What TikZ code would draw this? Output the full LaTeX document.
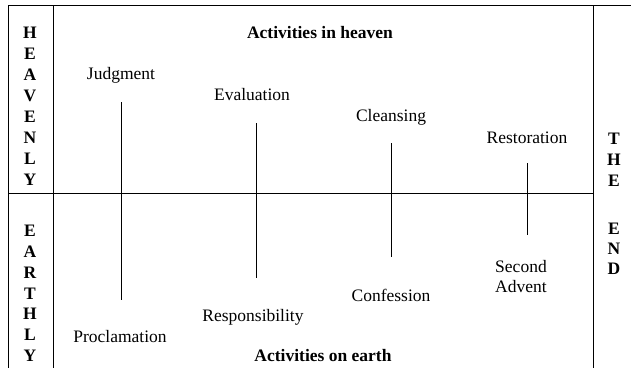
\documentclass[tikz,border=0pt]{standalone}
\usepackage{fontspec}
\setmainfont{Liberation Serif}
\begin{document}
\begin{tikzpicture}[x=1pt,y=-1pt,
  rule/.style={line width=0.8pt,black},
  tick/.style={line width=0.8pt,black},
  lab/.style={font=\fontsize{17.5}{20}\selectfont,inner sep=0pt,align=center},
  head/.style={font=\fontsize{17.5}{20}\selectfont\bfseries,inner sep=0pt},
  vlet/.style={font=\fontsize{17.5}{20}\selectfont\bfseries,inner sep=0pt}]
\useasboundingbox (0,0) rectangle (631,368);
% frame
\coordinate (tl) at (8,5);
\coordinate (tr) at (631,5);
\coordinate (bl) at (8,368);
\coordinate (c2t) at (53,5);
\coordinate (c2b) at (53,368);
\coordinate (c3t) at (593,5);
\coordinate (c3b) at (593,368);
\coordinate (ml) at (8,193);
\coordinate (mr) at (593,193);
\draw[rule] (tl) -- (tr);
\draw[rule] (tl) -- (bl);
\draw[rule] (c2t) -- (c2b);
\draw[rule] (c3t) -- (c3b);
\draw[rule] (ml) -- (mr);
% side letters
\foreach \l [count=\i from 0] in {H,E,A,V,E,N,L,Y}
  \node[vlet] (hv\i) at (30,33+21*\i) {\l};
\foreach \l [count=\i from 0] in {E,A,R,T,H,L,Y}
  \node[vlet] (ea\i) at (30,231+20.8*\i) {\l};
\foreach \l [count=\i from 0] in {T,H,E}
  \node[vlet] (th\i) at (614,139+21*\i) {\l};
\foreach \l [count=\i from 0] in {E,N,D}
  \node[vlet] (en\i) at (614,229+20*\i) {\l};
% headings
\node[head] (heaven) at (320,33) {Activities in heaven};
\node[head] (earth) at (323,356) {Activities on earth};
% heavenly activities
\node[lab] (judg) at (121,75) {Judgment};
\node[lab] (eval) at (252,95) {Evaluation};
\node[lab] (clea) at (391,117) {Cleansing};
\node[lab] (rest) at (527,138) {Restoration};
% earthly activities
\node[lab] (proc) at (120,337) {Proclamation};
\node[lab] (resp) at (253,317) {Responsibility};
\node[lab] (conf) at (391,295) {Confession};
\node[lab] (adv) at (521,277) {Second\\Advent};
% ticks
\coordinate (j1) at (121,102); \coordinate (j2) at (121,300);
\coordinate (e1) at (256,123); \coordinate (e2) at (256,278);
\coordinate (k1) at (391,143); \coordinate (k2) at (391,257);
\coordinate (r1) at (527,163); \coordinate (r2) at (527,235);
\draw[tick] (j1) -- (j2);
\draw[tick] (e1) -- (e2);
\draw[tick] (k1) -- (k2);
\draw[tick] (r1) -- (r2);
\end{tikzpicture}
\end{document}
